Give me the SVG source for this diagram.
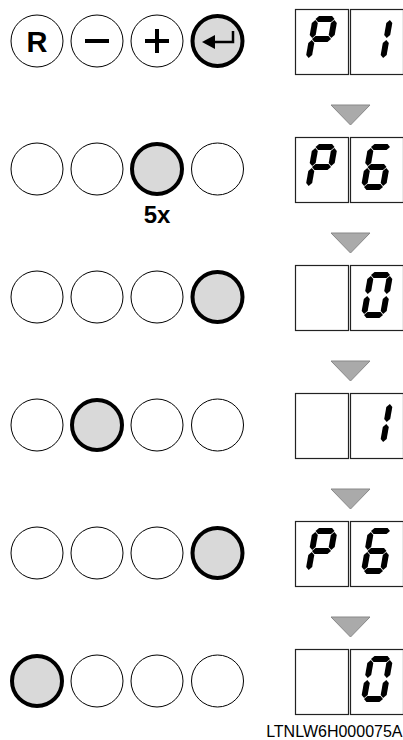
<svg xmlns="http://www.w3.org/2000/svg" xmlns:xlink="http://www.w3.org/1999/xlink" width="403" height="740" viewBox="0 0 403 740">
<style>
.btn{fill:#fff;stroke:#000;stroke-width:1}
.act{fill:#d9d9d9;stroke:#000;stroke-width:4}
.box{fill:#fff;stroke:#222;stroke-width:1.2}
.tri{fill:#aaa;stroke:#888;stroke-width:1}
.seg{fill:#000}
.lbl{font-family:"Liberation Sans",Arial,sans-serif;fill:#000}
</style>
<defs>
<polygon id="sA" class="seg" points="-9.5,-20 -6.5,-23 6.5,-23 9.5,-20 6.5,-17 -6.5,-17"/>
<polygon id="sG" class="seg" points="-9.5,0 -6.5,-3 6.5,-3 9.5,0 6.5,3 -6.5,3"/>
<polygon id="sD" class="seg" points="-9.5,20 -6.5,17 6.5,17 9.5,20 6.5,23 -6.5,23"/>
<polygon id="sF" class="seg" points="-9.5,-19 -6.5,-16 -6.5,-4 -9.5,-1 -12.5,-4 -12.5,-16"/>
<polygon id="sB" class="seg" points="9.5,-19 12.5,-16 12.5,-4 9.5,-1 6.5,-4 6.5,-16"/>
<polygon id="sE" class="seg" points="-9.5,1 -6.5,4 -6.5,16 -9.5,19 -12.5,16 -12.5,4"/>
<polygon id="sC" class="seg" points="9.5,1 12.5,4 12.5,16 9.5,19 6.5,16 6.5,4"/>
<g id="dP"><use xlink:href="#sA"/><use xlink:href="#sB"/><use xlink:href="#sF"/><use xlink:href="#sG"/><use xlink:href="#sE"/></g>
<g id="d1"><use xlink:href="#sB"/><use xlink:href="#sC"/></g>
<g id="d6"><use xlink:href="#sA"/><use xlink:href="#sF"/><use xlink:href="#sG"/><use xlink:href="#sE"/><use xlink:href="#sD"/><use xlink:href="#sC"/></g>
<g id="d0"><use xlink:href="#sA"/><use xlink:href="#sB"/><use xlink:href="#sC"/><use xlink:href="#sD"/><use xlink:href="#sE"/><use xlink:href="#sF"/></g>
</defs>

<!-- Row 1 -->
<g id="row1-buttons">
<g id="btn-R"><circle class="btn" cx="37" cy="41" r="26"/><text class="lbl" x="37" y="52" font-size="29" font-weight="bold" text-anchor="middle">R</text></g>
<g id="btn-minus"><circle class="btn" cx="97" cy="41" r="26"/><rect x="85" y="39" width="24" height="4" fill="#000"/></g>
<g id="btn-plus"><circle class="btn" cx="157" cy="41" r="26"/><rect x="145" y="39" width="24" height="4" fill="#000"/><rect x="155" y="29" width="4" height="24" fill="#000"/></g>
<g id="btn-enter"><circle class="act" cx="217.5" cy="41" r="25"/><polyline points="214,42 233,42 233,31" fill="none" stroke="#000" stroke-width="2.5"/><polygon points="202,42 215,35 215,49" fill="#000"/></g>
</g>
<g id="disp1">
<rect class="box" x="295.5" y="9.5" width="53" height="65"/><rect class="box" x="350.5" y="9.5" width="53" height="65"/>
<use xlink:href="#dP" transform="translate(321.5,39) skewX(-10)"/>
<use xlink:href="#d1" transform="translate(377,39) skewX(-10)"/>
</g>

<!-- Row 2 -->
<g id="row2-buttons">
<circle class="btn" cx="37" cy="169" r="26"/><circle class="btn" cx="97" cy="169" r="26"/><circle class="act" cx="157" cy="169" r="25"/><circle class="btn" cx="217.5" cy="169" r="26"/>
<text class="lbl" x="157" y="223" font-size="24" font-weight="bold" text-anchor="middle">5x</text>
</g>
<g id="disp2">
<rect class="box" x="295.5" y="137.5" width="53" height="65"/><rect class="box" x="350.5" y="137.5" width="53" height="65"/>
<use xlink:href="#dP" transform="translate(321.5,167) skewX(-10)"/>
<use xlink:href="#d6" transform="translate(377,167) skewX(-10)"/>
</g>

<!-- Row 3 -->
<g id="row3-buttons">
<circle class="btn" cx="37" cy="297" r="26"/><circle class="btn" cx="97" cy="297" r="26"/><circle class="btn" cx="157" cy="297" r="26"/><circle class="act" cx="217.5" cy="297" r="25"/>
</g>
<g id="disp3">
<rect class="box" x="295.5" y="265.5" width="53" height="65"/><rect class="box" x="350.5" y="265.5" width="53" height="65"/>
<use xlink:href="#d0" transform="translate(377,295) skewX(-10)"/>
</g>

<!-- Row 4 -->
<g id="row4-buttons">
<circle class="btn" cx="37" cy="425" r="26"/><circle class="act" cx="97" cy="425" r="25"/><circle class="btn" cx="157" cy="425" r="26"/><circle class="btn" cx="217.5" cy="425" r="26"/>
</g>
<g id="disp4">
<rect class="box" x="295.5" y="393.5" width="53" height="65"/><rect class="box" x="350.5" y="393.5" width="53" height="65"/>
<use xlink:href="#d1" transform="translate(377,423) skewX(-10)"/>
</g>

<!-- Row 5 -->
<g id="row5-buttons">
<circle class="btn" cx="37" cy="553" r="26"/><circle class="btn" cx="97" cy="553" r="26"/><circle class="btn" cx="157" cy="553" r="26"/><circle class="act" cx="217.5" cy="553" r="25"/>
</g>
<g id="disp5">
<rect class="box" x="295.5" y="521.5" width="53" height="65"/><rect class="box" x="350.5" y="521.5" width="53" height="65"/>
<use xlink:href="#dP" transform="translate(321.5,551) skewX(-10)"/>
<use xlink:href="#d6" transform="translate(377,551) skewX(-10)"/>
</g>

<!-- Row 6 -->
<g id="row6-buttons">
<circle class="act" cx="37" cy="681" r="25"/><circle class="btn" cx="97" cy="681" r="26"/><circle class="btn" cx="157" cy="681" r="26"/><circle class="btn" cx="217.5" cy="681" r="26"/>
</g>
<g id="disp6">
<rect class="box" x="295.5" y="649.5" width="53" height="65"/><rect class="box" x="350.5" y="649.5" width="53" height="65"/>
<use xlink:href="#d0" transform="translate(377,679) skewX(-10)"/>
</g>

<g id="connectors">
<polygon class="tri" points="331,105 370,105 350.5,125"/>
<polygon class="tri" points="331,233 370,233 350.5,253"/>
<polygon class="tri" points="331,361 370,361 350.5,381"/>
<polygon class="tri" points="331,489 370,489 350.5,509"/>
<polygon class="tri" points="331,617 370,617 350.5,637"/>
</g>

<text class="lbl" x="402.5" y="737" font-size="16" text-anchor="end">LTNLW6H000075A</text>
</svg>
